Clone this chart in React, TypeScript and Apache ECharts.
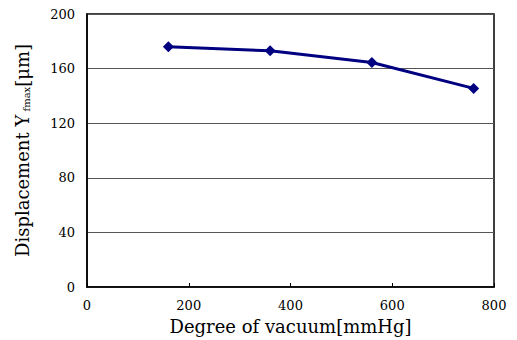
import React, { useEffect, useRef } from "react";
import * as echarts from "echarts";

const vacuum = [160, 360, 560, 760];
const displacement = [176, 173, 164.5, 145.5];
const yTicks = [0, 40, 80, 120, 160, 200];
const xTicks = [0, 200, 400, 600, 800];

export default function App() {
  const ref = useRef<HTMLDivElement>(null);
  useEffect(() => {
    const chart = echarts.init(ref.current!, null, { renderer: "svg" });
    const serif = "'DejaVu Serif', serif";
    chart.setOption({
      animation: false,
      textStyle: { fontFamily: serif },
      grid: { left: 87, right: 23, top: 14, bottom: 49, show: true, borderColor: "#000", borderWidth: 1.5, backgroundColor: "transparent" },
      xAxis: {
        type: "value",
        min: xTicks[0],
        max: xTicks[xTicks.length - 1],
        interval: 200,
        name: "Degree of vacuum[mmHg]",
        nameLocation: "middle",
        nameGap: 30,
        nameTextStyle: { fontFamily: serif, fontSize: 18, color: "#000" },
        axisLine: { show: true, lineStyle: { color: "#000", width: 1.5 } },
        axisTick: { show: true, inside: true, length: 4, lineStyle: { color: "#000" } },
        axisLabel: { fontFamily: serif, fontSize: 13, color: "#000", margin: 12 },
        splitLine: { show: false },
      },
      yAxis: {
        type: "value",
        min: yTicks[0],
        max: yTicks[yTicks.length - 1],
        interval: 40,
        name: "{a|Displacement Y}{s| fmax}{a|[μm]}",
        nameLocation: "middle",
        nameGap: 56,
        nameTextStyle: {
          fontFamily: serif,
          rich: {
            a: { fontFamily: serif, fontSize: 18, color: "#000" },
            s: { fontFamily: serif, fontSize: 10, color: "#000", verticalAlign: "bottom", padding: [8, 0, 0, 0] },
          },
        },
        axisLine: { show: true, lineStyle: { color: "#000", width: 1.5 } },
        axisTick: { show: false },
        axisLabel: { fontFamily: serif, fontSize: 13, color: "#000", margin: 12 },
        splitLine: { show: true, lineStyle: { color: "#555", width: 1 } },
      },
      series: [
        {
          type: "line",
          data: vacuum.map((v, i) => [v, displacement[i]]),
          symbol: "diamond",
          symbolSize: 11,
          lineStyle: { color: "#000080", width: 3 },
          itemStyle: { color: "#000080" },
        },
      ],
    });
    return () => chart.dispose();
  }, []);
  return <div ref={ref} style={{ width: 517, height: 340, position: "absolute", left: 0, top: 0 }} />;
}
